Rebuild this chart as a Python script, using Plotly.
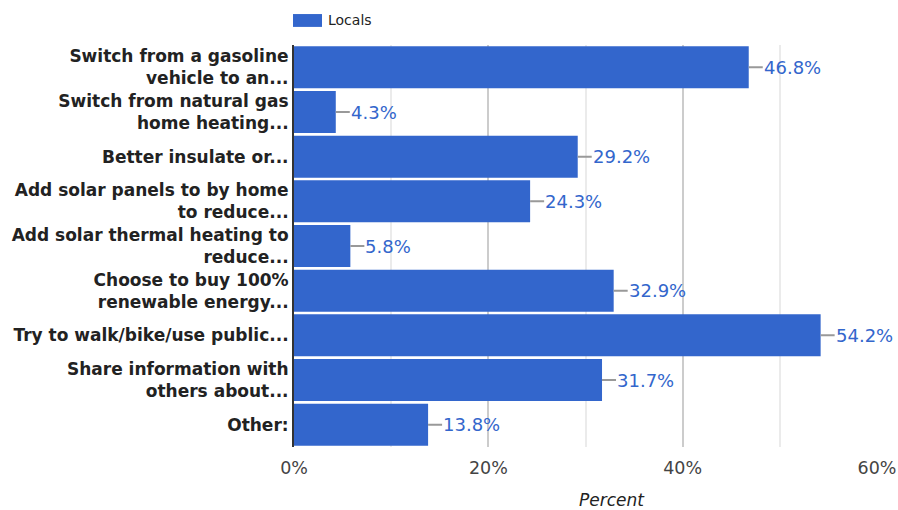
import plotly.graph_objects as go

categories = [
    "Switch from a gasoline<br>vehicle to an...",
    "Switch from natural gas<br>home heating...",
    "Better insulate or...",
    "Add solar panels to by home<br>to reduce...",
    "Add solar thermal heating to<br>reduce...",
    "Choose to buy 100%<br>renewable energy...",
    "Try to walk/bike/use public...",
    "Share information with<br>others about...",
    "Other:",
]
locals_pct = [46.8, 4.3, 29.2, 24.3, 5.8, 32.9, 54.2, 31.7, 13.8]
series_name = "Locals"
x_ticks = [0, 20, 40, 60]
x_tick_labels = ["0%", "20%", "40%", "60%"]

BAR = "#3366cc"
FONT = "DejaVu Sans"

fig = go.Figure()
fig.add_trace(go.Bar(
    x=locals_pct, y=categories, orientation="h",
    marker=dict(color=BAR, line=dict(width=0)),
    name=series_name, showlegend=False,
))

annotations = []
for c, v in zip(categories, locals_pct):
    annotations.append(dict(
        x=v, y=c, xref="x", yref="y",
        text=f"{v}%", showarrow=True, arrowhead=0, arrowwidth=2,
        arrowcolor="#999999", ax=14, ay=0, xanchor="left",
        borderpad=0, standoff=0,
        font=dict(family=FONT, size=18, color=BAR),
    ))

# legend (drawn manually to match the wide swatch)
fig.add_shape(type="rect", xref="paper", yref="paper",
              x0=-0.0017, x1=0.048, y0=1.045, y1=1.077,
              fillcolor=BAR, line=dict(width=0))
annotations.append(dict(
    x=0.055, y=1.061, xref="paper", yref="paper", text=series_name,
    showarrow=False, xanchor="left", yanchor="middle",
    font=dict(family=FONT, size=14, color="#222222"),
))
# axis title
annotations.append(dict(
    x=0.545, y=-0.132, xref="paper", yref="paper", text="Percent",
    showarrow=False, xanchor="center", yanchor="middle",
    font=dict(family=FONT, size=17, color="#222222", style="italic"),
))

fig.update_layout(
    width=898, height=510,
    margin=dict(l=294, r=21, t=45, b=63),
    paper_bgcolor="white", plot_bgcolor="white",
    bargap=0.06,
    font=dict(family=FONT),
    annotations=annotations,
    showlegend=False,
)
fig.update_xaxes(
    range=[0, 60], tickvals=x_ticks, ticktext=x_tick_labels,
    showgrid=True, gridcolor="#cccccc", gridwidth=2,
    minor=dict(dtick=10, showgrid=True, gridcolor="#ebebeb", gridwidth=2),
    zeroline=False, showline=False, ticks="",
    tickfont=dict(family=FONT, size=17.5, color="#444444"),
    ticklabelstandoff=8, automargin=False,
)
fig.update_yaxes(
    autorange="reversed", showgrid=False, zeroline=False,
    showline=True, linecolor="#333333", linewidth=2, ticks="",
    tickfont=dict(family=FONT, size=17, color="#222222", weight="bold"),
    ticklabelstandoff=0, automargin=False,
)

fig.write_html(
    "out.html",
    config={"displayModeBar": False},
    post_script="document.body.style.margin='0px';document.body.style.overflow='hidden';",
)
